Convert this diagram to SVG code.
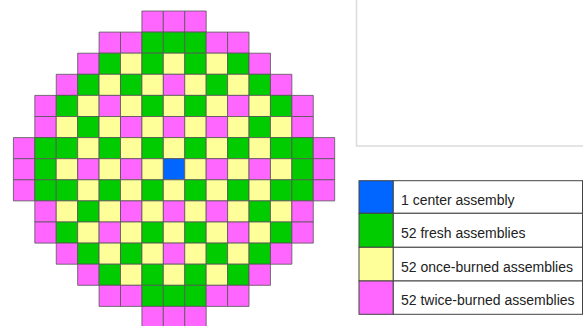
<svg xmlns="http://www.w3.org/2000/svg" width="583" height="326" viewBox="0 0 583 326">
<style>
.c rect{stroke:#555;stroke-width:0.8;vector-effect:non-scaling-stroke;width:1px;height:1px}
.p{fill:#FF66FF}.g{fill:#00CC00}.y{fill:#FFFF99}.b{fill:#0066FF}
.lg{stroke:#444;stroke-width:1}
.t{font-family:"Liberation Sans",Arial,sans-serif;font-size:14px;fill:#222}
</style>
<rect width="583" height="326" fill="#fff"/>
<g id="core" class="c" transform="translate(13.4,11) scale(21.42,21.1)">
<g id="row0"><rect x="6" y="0" width="1" height="1" class="p"/><rect x="7" y="0" width="1" height="1" class="p"/><rect x="8" y="0" width="1" height="1" class="p"/></g>
<g id="row1"><rect x="4" y="1" width="1" height="1" class="p"/><rect x="5" y="1" width="1" height="1" class="p"/><rect x="6" y="1" width="1" height="1" class="g"/><rect x="7" y="1" width="1" height="1" class="g"/><rect x="8" y="1" width="1" height="1" class="g"/><rect x="9" y="1" width="1" height="1" class="p"/><rect x="10" y="1" width="1" height="1" class="p"/></g>
<g id="row2"><rect x="3" y="2" width="1" height="1" class="p"/><rect x="4" y="2" width="1" height="1" class="g"/><rect x="5" y="2" width="1" height="1" class="y"/><rect x="6" y="2" width="1" height="1" class="g"/><rect x="7" y="2" width="1" height="1" class="y"/><rect x="8" y="2" width="1" height="1" class="g"/><rect x="9" y="2" width="1" height="1" class="y"/><rect x="10" y="2" width="1" height="1" class="g"/><rect x="11" y="2" width="1" height="1" class="p"/></g>
<g id="row3"><rect x="2" y="3" width="1" height="1" class="p"/><rect x="3" y="3" width="1" height="1" class="g"/><rect x="4" y="3" width="1" height="1" class="y"/><rect x="5" y="3" width="1" height="1" class="g"/><rect x="6" y="3" width="1" height="1" class="y"/><rect x="7" y="3" width="1" height="1" class="p"/><rect x="8" y="3" width="1" height="1" class="y"/><rect x="9" y="3" width="1" height="1" class="g"/><rect x="10" y="3" width="1" height="1" class="y"/><rect x="11" y="3" width="1" height="1" class="g"/><rect x="12" y="3" width="1" height="1" class="p"/></g>
<g id="row4"><rect x="1" y="4" width="1" height="1" class="p"/><rect x="2" y="4" width="1" height="1" class="g"/><rect x="3" y="4" width="1" height="1" class="y"/><rect x="4" y="4" width="1" height="1" class="p"/><rect x="5" y="4" width="1" height="1" class="y"/><rect x="6" y="4" width="1" height="1" class="g"/><rect x="7" y="4" width="1" height="1" class="y"/><rect x="8" y="4" width="1" height="1" class="g"/><rect x="9" y="4" width="1" height="1" class="y"/><rect x="10" y="4" width="1" height="1" class="p"/><rect x="11" y="4" width="1" height="1" class="y"/><rect x="12" y="4" width="1" height="1" class="g"/><rect x="13" y="4" width="1" height="1" class="p"/></g>
<g id="row5"><rect x="1" y="5" width="1" height="1" class="p"/><rect x="2" y="5" width="1" height="1" class="y"/><rect x="3" y="5" width="1" height="1" class="g"/><rect x="4" y="5" width="1" height="1" class="y"/><rect x="5" y="5" width="1" height="1" class="p"/><rect x="6" y="5" width="1" height="1" class="y"/><rect x="7" y="5" width="1" height="1" class="p"/><rect x="8" y="5" width="1" height="1" class="y"/><rect x="9" y="5" width="1" height="1" class="p"/><rect x="10" y="5" width="1" height="1" class="y"/><rect x="11" y="5" width="1" height="1" class="g"/><rect x="12" y="5" width="1" height="1" class="y"/><rect x="13" y="5" width="1" height="1" class="p"/></g>
<g id="row6"><rect x="0" y="6" width="1" height="1" class="p"/><rect x="1" y="6" width="1" height="1" class="g"/><rect x="2" y="6" width="1" height="1" class="g"/><rect x="3" y="6" width="1" height="1" class="y"/><rect x="4" y="6" width="1" height="1" class="g"/><rect x="5" y="6" width="1" height="1" class="y"/><rect x="6" y="6" width="1" height="1" class="g"/><rect x="7" y="6" width="1" height="1" class="y"/><rect x="8" y="6" width="1" height="1" class="g"/><rect x="9" y="6" width="1" height="1" class="y"/><rect x="10" y="6" width="1" height="1" class="g"/><rect x="11" y="6" width="1" height="1" class="y"/><rect x="12" y="6" width="1" height="1" class="g"/><rect x="13" y="6" width="1" height="1" class="g"/><rect x="14" y="6" width="1" height="1" class="p"/></g>
<g id="row7"><rect x="0" y="7" width="1" height="1" class="p"/><rect x="1" y="7" width="1" height="1" class="g"/><rect x="2" y="7" width="1" height="1" class="y"/><rect x="3" y="7" width="1" height="1" class="p"/><rect x="4" y="7" width="1" height="1" class="y"/><rect x="5" y="7" width="1" height="1" class="p"/><rect x="6" y="7" width="1" height="1" class="y"/><rect x="7" y="7" width="1" height="1" class="b"/><rect x="8" y="7" width="1" height="1" class="y"/><rect x="9" y="7" width="1" height="1" class="p"/><rect x="10" y="7" width="1" height="1" class="y"/><rect x="11" y="7" width="1" height="1" class="p"/><rect x="12" y="7" width="1" height="1" class="y"/><rect x="13" y="7" width="1" height="1" class="g"/><rect x="14" y="7" width="1" height="1" class="p"/></g>
<g id="row8"><rect x="0" y="8" width="1" height="1" class="p"/><rect x="1" y="8" width="1" height="1" class="g"/><rect x="2" y="8" width="1" height="1" class="g"/><rect x="3" y="8" width="1" height="1" class="y"/><rect x="4" y="8" width="1" height="1" class="g"/><rect x="5" y="8" width="1" height="1" class="y"/><rect x="6" y="8" width="1" height="1" class="g"/><rect x="7" y="8" width="1" height="1" class="y"/><rect x="8" y="8" width="1" height="1" class="g"/><rect x="9" y="8" width="1" height="1" class="y"/><rect x="10" y="8" width="1" height="1" class="g"/><rect x="11" y="8" width="1" height="1" class="y"/><rect x="12" y="8" width="1" height="1" class="g"/><rect x="13" y="8" width="1" height="1" class="g"/><rect x="14" y="8" width="1" height="1" class="p"/></g>
<g id="row9"><rect x="1" y="9" width="1" height="1" class="p"/><rect x="2" y="9" width="1" height="1" class="y"/><rect x="3" y="9" width="1" height="1" class="g"/><rect x="4" y="9" width="1" height="1" class="y"/><rect x="5" y="9" width="1" height="1" class="p"/><rect x="6" y="9" width="1" height="1" class="y"/><rect x="7" y="9" width="1" height="1" class="p"/><rect x="8" y="9" width="1" height="1" class="y"/><rect x="9" y="9" width="1" height="1" class="p"/><rect x="10" y="9" width="1" height="1" class="y"/><rect x="11" y="9" width="1" height="1" class="g"/><rect x="12" y="9" width="1" height="1" class="y"/><rect x="13" y="9" width="1" height="1" class="p"/></g>
<g id="row10"><rect x="1" y="10" width="1" height="1" class="p"/><rect x="2" y="10" width="1" height="1" class="g"/><rect x="3" y="10" width="1" height="1" class="y"/><rect x="4" y="10" width="1" height="1" class="p"/><rect x="5" y="10" width="1" height="1" class="y"/><rect x="6" y="10" width="1" height="1" class="g"/><rect x="7" y="10" width="1" height="1" class="y"/><rect x="8" y="10" width="1" height="1" class="g"/><rect x="9" y="10" width="1" height="1" class="y"/><rect x="10" y="10" width="1" height="1" class="p"/><rect x="11" y="10" width="1" height="1" class="y"/><rect x="12" y="10" width="1" height="1" class="g"/><rect x="13" y="10" width="1" height="1" class="p"/></g>
<g id="row11"><rect x="2" y="11" width="1" height="1" class="p"/><rect x="3" y="11" width="1" height="1" class="g"/><rect x="4" y="11" width="1" height="1" class="y"/><rect x="5" y="11" width="1" height="1" class="g"/><rect x="6" y="11" width="1" height="1" class="y"/><rect x="7" y="11" width="1" height="1" class="p"/><rect x="8" y="11" width="1" height="1" class="y"/><rect x="9" y="11" width="1" height="1" class="g"/><rect x="10" y="11" width="1" height="1" class="y"/><rect x="11" y="11" width="1" height="1" class="g"/><rect x="12" y="11" width="1" height="1" class="p"/></g>
<g id="row12"><rect x="3" y="12" width="1" height="1" class="p"/><rect x="4" y="12" width="1" height="1" class="g"/><rect x="5" y="12" width="1" height="1" class="y"/><rect x="6" y="12" width="1" height="1" class="g"/><rect x="7" y="12" width="1" height="1" class="y"/><rect x="8" y="12" width="1" height="1" class="g"/><rect x="9" y="12" width="1" height="1" class="y"/><rect x="10" y="12" width="1" height="1" class="g"/><rect x="11" y="12" width="1" height="1" class="p"/></g>
<g id="row13"><rect x="4" y="13" width="1" height="1" class="p"/><rect x="5" y="13" width="1" height="1" class="p"/><rect x="6" y="13" width="1" height="1" class="g"/><rect x="7" y="13" width="1" height="1" class="g"/><rect x="8" y="13" width="1" height="1" class="g"/><rect x="9" y="13" width="1" height="1" class="p"/><rect x="10" y="13" width="1" height="1" class="p"/></g>
<g id="row14"><rect x="6" y="14" width="1" height="1" class="p"/><rect x="7" y="14" width="1" height="1" class="p"/><rect x="8" y="14" width="1" height="1" class="p"/></g>
</g>
<path id="blank-frame" d="M356.5,0 V146 H583" fill="none" stroke="#dcdcdc" stroke-width="1.5"/>
<g id="legend">
<rect x="359" y="180.7" width="34.3" height="32.6" class="b lg"/>
<rect x="359" y="213.3" width="34.3" height="34" class="g lg"/>
<rect x="359" y="247.3" width="34.3" height="33.7" class="y lg"/>
<rect x="359" y="281" width="34.3" height="33.3" class="p lg"/>
<rect x="393.3" y="180.7" width="189.2" height="32.6" fill="#fff" class="lg"/>
<rect x="393.3" y="213.3" width="189.2" height="34" fill="#fff" class="lg"/>
<rect x="393.3" y="247.3" width="189.2" height="33.7" fill="#fff" class="lg"/>
<rect x="393.3" y="281" width="189.2" height="33.3" fill="#fff" class="lg"/>
<text x="401" y="204.5" class="t">1 center assembly</text>
<text x="401" y="238" class="t">52 fresh assemblies</text>
<text x="401" y="271.5" class="t">52 once-burned assemblies</text>
<text x="401" y="305" class="t">52 twice-burned assemblies</text>
</g>
</svg>
